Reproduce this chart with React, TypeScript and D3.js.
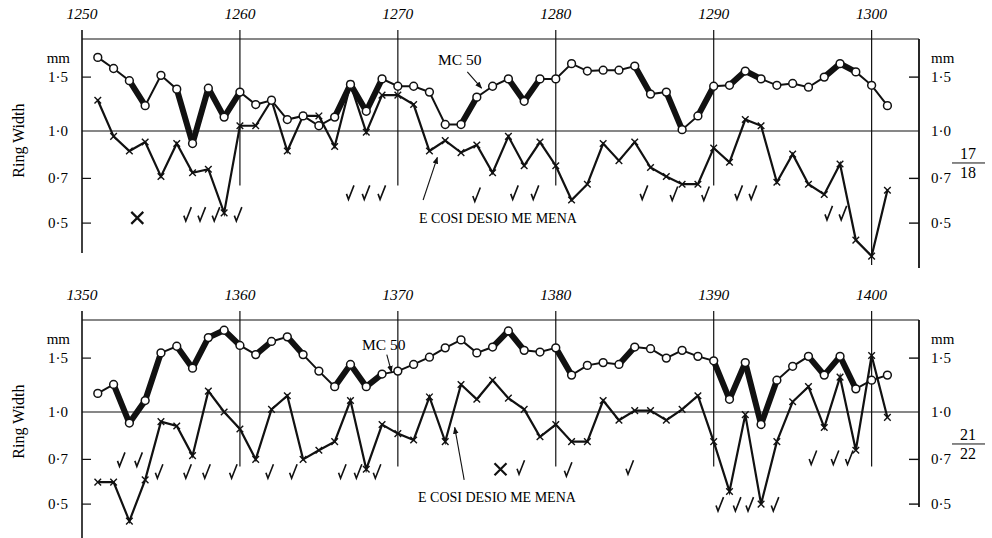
import React, { useEffect, useRef } from "react";
import * as d3 from "d3";

const width = 992;
const height = 538;

// ring widths, one value per year, starting the year after the panel start
const mc50A = [
  1.74, 1.6, 1.46, 1.21, 1.52, 1.37, 0.91, 1.38, 1.11, 1.34,
  1.22, 1.26, 1.09, 1.12, 1.04, 1.11, 1.42, 1.16, 1.48, 1.4,
  1.4, 1.34, 1.05, 1.05, 1.29, 1.4, 1.48, 1.25, 1.48, 1.48,
  1.66, 1.57, 1.58, 1.58, 1.63, 1.32, 1.34, 1.01, 1.12, 1.4,
  1.41, 1.57, 1.48, 1.41, 1.43, 1.39, 1.5, 1.66, 1.56, 1.41,
  1.21,
];
const cosiA = [
  1.26, 0.96, 0.86, 0.92, 0.71, 0.91, 0.73, 0.75, 0.54, 1.04,
  1.04, 1.26, 0.86, 1.12, 1.12, 0.89, 1.42, 0.99, 1.31, 1.31,
  1.22, 0.86, 0.93, 0.85, 0.9, 0.73, 0.96, 0.77, 0.92, 0.77,
  0.595, 0.67, 0.91, 0.8, 0.92, 0.76, 0.71, 0.67, 0.67, 0.88,
  0.79, 1.09, 1.04, 0.68, 0.84, 0.67, 0.62, 0.78, 0.44, 0.39,
  0.64,
];
const thickA = [1253, 1256, 1257, 1258, 1259, 1266, 1267, 1268, 1274, 1277, 1278, 1285, 1287, 1289, 1291, 1292, 1297, 1298];
const checksA = [
  [1256.7, 0.535], [1257.6, 0.535], [1258.5, 0.535], [1259.9, 0.535],
  [1267, 0.63], [1268, 0.63], [1269, 0.63], [1275, 0.62],
  [1277.4, 0.63], [1278.7, 0.63], [1285.6, 0.63], [1287.5, 0.625], [1289.5, 0.625],
  [1291.6, 0.63], [1292.5, 0.63], [1297.3, 0.54], [1298.2, 0.54],
];
const bigXA = [[1253.5, 0.52]];

const mc50B = [
  1.15, 1.23, 0.92, 1.09, 1.56, 1.64, 1.39, 1.75, 1.85, 1.65,
  1.54, 1.7, 1.76, 1.54, 1.36, 1.21, 1.43, 1.21, 1.33, 1.36,
  1.43, 1.51, 1.62, 1.72, 1.56, 1.63, 1.84, 1.59, 1.57, 1.62,
  1.32, 1.42, 1.45, 1.43, 1.63, 1.61, 1.5, 1.59, 1.52, 1.47,
  1.1, 1.45, 0.91, 1.27, 1.41, 1.52, 1.32, 1.52, 1.19, 1.27,
  1.32,
];
const cosiB = [
  0.59, 0.59, 0.44, 0.6, 0.93, 0.9, 0.72, 1.17, 1.0, 0.88,
  0.7, 1.02, 1.13, 0.7, 0.75, 0.8, 1.09, 0.65, 0.91, 0.85,
  0.81, 1.12, 0.8, 1.23, 1.1, 1.27, 1.11, 1.02, 0.83, 0.91,
  0.8, 0.8, 1.09, 0.94, 1.01, 1.01, 0.94, 1.02, 1.13, 0.8,
  0.55, 0.98, 0.5, 0.8, 1.08, 1.21, 0.89, 1.3, 0.75, 1.53,
  0.96,
];
const thickB = [1352, 1353, 1354, 1356, 1357, 1358, 1359, 1361, 1363, 1366, 1367, 1368, 1376, 1377, 1380, 1384, 1390, 1391, 1392, 1393, 1396, 1397, 1398];
const checksB = [
  [1352.5, 0.7], [1353.6, 0.7],
  [1354.9, 0.64], [1356.7, 0.64], [1357.9, 0.64], [1359.6, 0.64], [1361.9, 0.64],
  [1363.4, 0.64], [1366.5, 0.64], [1367.5, 0.64], [1368.7, 0.64],
  [1377.8, 0.66], [1380.8, 0.65], [1384.7, 0.66],
  [1390.4, 0.5], [1391.5, 0.5], [1392.3, 0.5], [1393.9, 0.5],
  [1396.3, 0.71], [1397.7, 0.71], [1398.6, 0.71],
];
const bigXB = [[1376.5, 0.65]];

const yTicks = [1.5, 1.0, 0.7, 0.5];
const tickLabel = (v: number) => v.toFixed(1).replace(".", "·");

const panels = [
  {
    start: 1250, mc50: mc50A, cosi: cosiA, thick: thickA, checks: checksA, bigX: bigXA,
    frac: ["17", "18"], oy: 0, leftBottom: 253, rightBottom: 268, longLine: 1300,
    mcLabel: [438, 65], mcArrow: [[1274.4, 1.56], [1275.3, 1.38]],
    cosiLabel: [419, 223], cosiArrow: [[1271.6, 0.595], [1272.5, 0.82]],
  },
  {
    start: 1350, mc50: mc50B, cosi: cosiB, thick: thickB, checks: checksB, bigX: bigXB,
    frac: ["21", "22"], oy: 281, leftBottom: 545, rightBottom: 507, longLine: null,
    mcLabel: [362, 350], mcArrow: [[1369.3, 1.54], [1369.6, 1.35]],
    cosiLabel: [418, 502], cosiArrow: [[1374.2, 0.6], [1373.6, 0.89]],
  },
];

export default function App() {
  const ref = useRef<SVGSVGElement>(null);

  useEffect(() => {
    const svg = d3.select(ref.current);
    svg.selectAll("*").remove();

    const defs = svg.append("defs");
    defs
      .append("marker")
      .attr("id", "head")
      .attr("viewBox", "0 0 10 10")
      .attr("refX", 9)
      .attr("refY", 5)
      .attr("markerWidth", 7)
      .attr("markerHeight", 7)
      .attr("markerUnits", "userSpaceOnUse")
      .attr("orient", "auto")
      .append("path")
      .attr("d", "M0,1 L10,5 L0,9 Z")
      .attr("fill", "#111");

    panels.forEach(p => {
      const x = d3.scaleLinear().domain([p.start, p.start + 53]).range([82, 919]);
      const y = d3.scaleLog().domain([0.5, 1.5]).range([223.1 + p.oy, 77.1 + p.oy]);
      const top = 39 + p.oy;
      const g = svg.append("g");
      const ink = "#111";

      // "Ring Width"
      g.append("text")
        .attr("transform", `translate(24,${y(0.93)}) rotate(-90)`)
        .attr("text-anchor", "middle")
        .attr("font-size", 16)
        .text("Ring Width");

      // frame
      g.append("line").attr("x1", 82).attr("x2", 919).attr("y1", top).attr("y2", top)
        .attr("stroke", ink).attr("stroke-width", 1.2);
      g.append("line").attr("x1", 82).attr("x2", 82).attr("y1", top - 9).attr("y2", p.leftBottom)
        .attr("stroke", ink).attr("stroke-width", 1.6);
      g.append("line").attr("x1", 919).attr("x2", 919).attr("y1", top).attr("y2", p.rightBottom)
        .attr("stroke", ink).attr("stroke-width", 1.8);
      g.append("line").attr("x1", 82).attr("x2", 919).attr("y1", y(1)).attr("y2", y(1))
        .attr("stroke", ink).attr("stroke-width", 1.1);

      // decade lines and year labels
      const decades = d3.range(p.start, p.start + 51, 10);
      decades.forEach(dy => {
        if (dy !== p.start) {
          g.append("line").attr("x1", x(dy)).attr("x2", x(dy)).attr("y1", top - 9)
            .attr("y2", dy === p.longLine ? y(0.5) + 42 : y(0.7) + 7)
            .attr("stroke", ink).attr("stroke-width", 1.2);
        }
        g.append("text").attr("x", x(dy)).attr("y", top - 20).attr("text-anchor", "middle")
          .attr("font-size", 15.5).attr("font-style", "italic").text(dy);
      });

      // y ticks
      yTicks.forEach(v => {
        if (v !== 1) {
          g.append("line").attr("x1", 82).attr("x2", 91).attr("y1", y(v)).attr("y2", y(v))
            .attr("stroke", ink).attr("stroke-width", 1.2);
          g.append("line").attr("x1", 909).attr("x2", 919).attr("y1", y(v)).attr("y2", y(v))
            .attr("stroke", ink).attr("stroke-width", 1.4);
        }
        g.append("text").attr("x", 68).attr("y", y(v) + 5).attr("text-anchor", "end")
          .attr("font-size", 15).text(tickLabel(v));
        g.append("text").attr("x", 931).attr("y", y(v) + 5).attr("font-size", 15).text(tickLabel(v));
      });
      g.append("text").attr("x", 70).attr("y", y(1.5) - 14).attr("text-anchor", "end")
        .attr("font-size", 15).text("mm");
      g.append("text").attr("x", 931).attr("y", y(1.5) - 14).attr("font-size", 15).text("mm");

      // fraction
      const fx = 968;
      const fy = y(1) + 32;
      g.append("line").attr("x1", fx - 16).attr("x2", fx + 17).attr("y1", fy).attr("y2", fy)
        .attr("stroke", ink).attr("stroke-width", 1);
      g.append("text").attr("x", fx).attr("y", fy - 4).attr("text-anchor", "middle")
        .attr("font-size", 16).text(p.frac[0]);
      g.append("text").attr("x", fx).attr("y", fy + 15).attr("text-anchor", "middle")
        .attr("font-size", 16).text(p.frac[1]);

      const mcPts = p.mc50.map((v, i) => [p.start + 1 + i, v]);
      const coPts = p.cosi.map((v, i) => [p.start + 1 + i, v]);
      const line = d3.line().x(d => x(d[0])).y(d => y(d[1]));

      // E COSI DESIO ME MENA series
      g.append("path").attr("d", line(coPts)).attr("fill", "none").attr("stroke", ink)
        .attr("stroke-width", 2.2).attr("stroke-linejoin", "miter");
      g.append("g").selectAll("path").data(coPts).join("path")
        .attr("transform", d => `translate(${x(d[0])},${y(d[1])})`)
        .attr("d", "M-3.3,-3.3L3.3,3.3M-3.3,3.3L3.3,-3.3")
        .attr("stroke", ink).attr("stroke-width", 1.4);

      // MC 50 series
      g.append("path").attr("d", line(mcPts)).attr("fill", "none").attr("stroke", ink)
        .attr("stroke-width", 2);
      g.append("g").selectAll("line").data(p.thick).join("line")
        .attr("x1", d => x(d)).attr("x2", d => x(d + 1))
        .attr("y1", d => y(p.mc50[d - p.start - 1])).attr("y2", d => y(p.mc50[d - p.start]))
        .attr("stroke", ink).attr("stroke-width", 6).attr("stroke-linecap", "round");
      g.append("g").selectAll("circle").data(mcPts).join("circle")
        .attr("cx", d => x(d[0])).attr("cy", d => y(d[1])).attr("r", 3.9)
        .attr("fill", "#fff").attr("stroke", ink).attr("stroke-width", 1.5);

      // checks and big crosses
      g.append("g").selectAll("path").data(p.checks).join("path")
        .attr("transform", d => `translate(${x(d[0])},${y(d[1])})`)
        .attr("d", "M-4,1.5L-2,7L3.5,-7")
        .attr("fill", "none").attr("stroke", ink).attr("stroke-width", 1.6);
      g.append("g").selectAll("path").data(p.bigX).join("path")
        .attr("transform", d => `translate(${x(d[0])},${y(d[1])})`)
        .attr("d", "M-6,-6L6,6M-6,6L6,-6")
        .attr("stroke", ink).attr("stroke-width", 2.2);

      // labels with arrows
      g.append("text").attr("x", p.mcLabel[0]).attr("y", p.mcLabel[1]).attr("font-size", 15.5).text("MC 50");
      g.append("text").attr("x", p.cosiLabel[0]).attr("y", p.cosiLabel[1]).attr("font-size", 14)
        .text("E COSI DESIO ME MENA");
      [p.mcArrow, p.cosiArrow].forEach(a => {
        g.append("line")
          .attr("x1", x(a[0][0])).attr("y1", y(a[0][1]))
          .attr("x2", x(a[1][0])).attr("y2", y(a[1][1]))
          .attr("stroke", ink).attr("stroke-width", 1.1).attr("marker-end", "url(#head)");
      });
    });
  }, []);

  return (
    <svg
      ref={ref}
      width={width}
      height={height}
      style={{ position: "absolute", left: 0, top: 0, fontFamily: "'Liberation Serif', serif", background: "#fff" }}
    />
  );
}
